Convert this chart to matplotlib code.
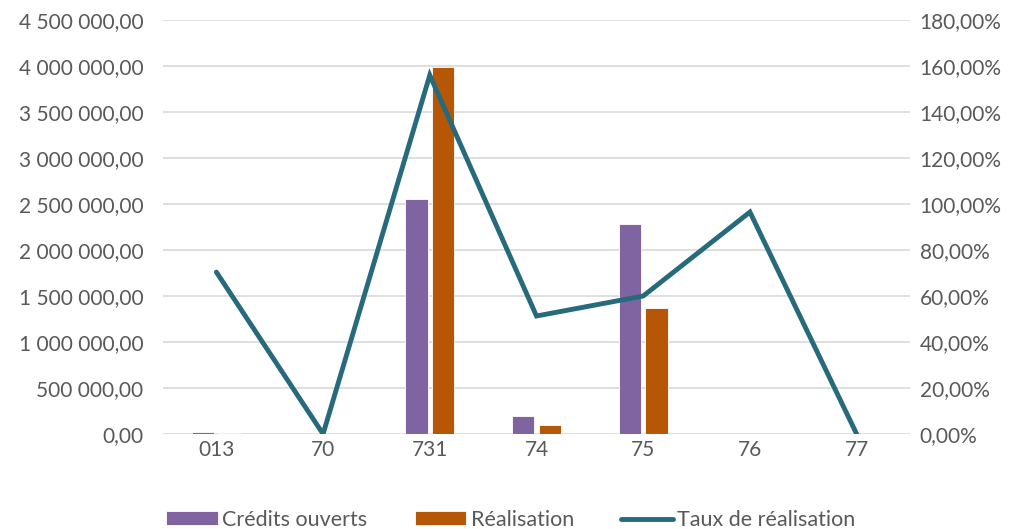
import numpy as np
import matplotlib.pyplot as plt
from matplotlib.ticker import FuncFormatter

# Données
categories = ['013', '70', '731', '74', '75', '76', '77']
credits_ouverts = [20000, 0, 2555000, 195000, 2283000, 0, 0]
realisation = [14000, 0, 3990000, 100000, 1370000, 0, 0]
taux = [70.4, 0.0, 156.0, 51.3, 60.0, 96.5, 0.0]

violet = '#8064A2'
orange = '#B65708'
bleu = '#276A7C'
gris = '#595959'

plt.rcParams['font.family'] = ['Lato', 'DejaVu Sans']

fig = plt.figure(figsize=(10.22, 5.29), dpi=100)
ax = fig.add_axes([163/1022, 1 - 434/529, 747/1022, 414/529])
ax2 = ax.twinx()

x = np.arange(len(categories))
w = 0.21
ax.bar(x - 0.125, credits_ouverts, w, color=violet, edgecolor='white', linewidth=0.6,
       label='Crédits ouverts', zorder=2)
ax.bar(x + 0.125, realisation, w, color=orange, edgecolor='white', linewidth=0.6,
       label='Réalisation', zorder=2)
ax2.plot(x, taux, color=bleu, linewidth=3.5, label='Taux de réalisation',
         solid_capstyle='round', solid_joinstyle='miter')

ax.set_xlim(-0.5, len(categories) - 0.5)
ax.set_ylim(0, 4500000)
ax.set_yticks(np.arange(0, 4500001, 500000))
ax2.set_ylim(0, 180)
ax2.set_yticks(np.arange(0, 181, 20))

def fmt_eur(v, pos):
    s = f'{v:,.2f}'
    return s.replace(',', ' ').replace('.', ',')

def fmt_pct(v, pos):
    return f'{v:.2f}%'.replace('.', ',')

ax.yaxis.set_major_formatter(FuncFormatter(fmt_eur))
ax2.yaxis.set_major_formatter(FuncFormatter(fmt_pct))

ax.set_xticks(x)
ax.set_xticklabels(categories)
ax.grid(axis='y', color='#D9D9D9', linewidth=1.2, zorder=0)
ax.set_axisbelow(True)

for a in (ax, ax2):
    for s in a.spines.values():
        s.set_visible(False)
    a.tick_params(length=0, labelsize=15, colors=gris)
ax.tick_params(axis='x', pad=4)
ax.tick_params(axis='y', pad=14)
ax2.tick_params(axis='y', pad=7)

h1, l1 = ax.get_legend_handles_labels()
h2, l2 = ax2.get_legend_handles_labels()
fig.legend(h1 + h2, l1 + l2, loc='lower center', bbox_to_anchor=(0.5, -0.038),
           ncol=3, frameon=False, fontsize=15.5, labelcolor=gris,
           handlelength=2.4, handleheight=0.6, handletextpad=0.2, columnspacing=2.2)

fig.savefig('out.png', dpi=100)
